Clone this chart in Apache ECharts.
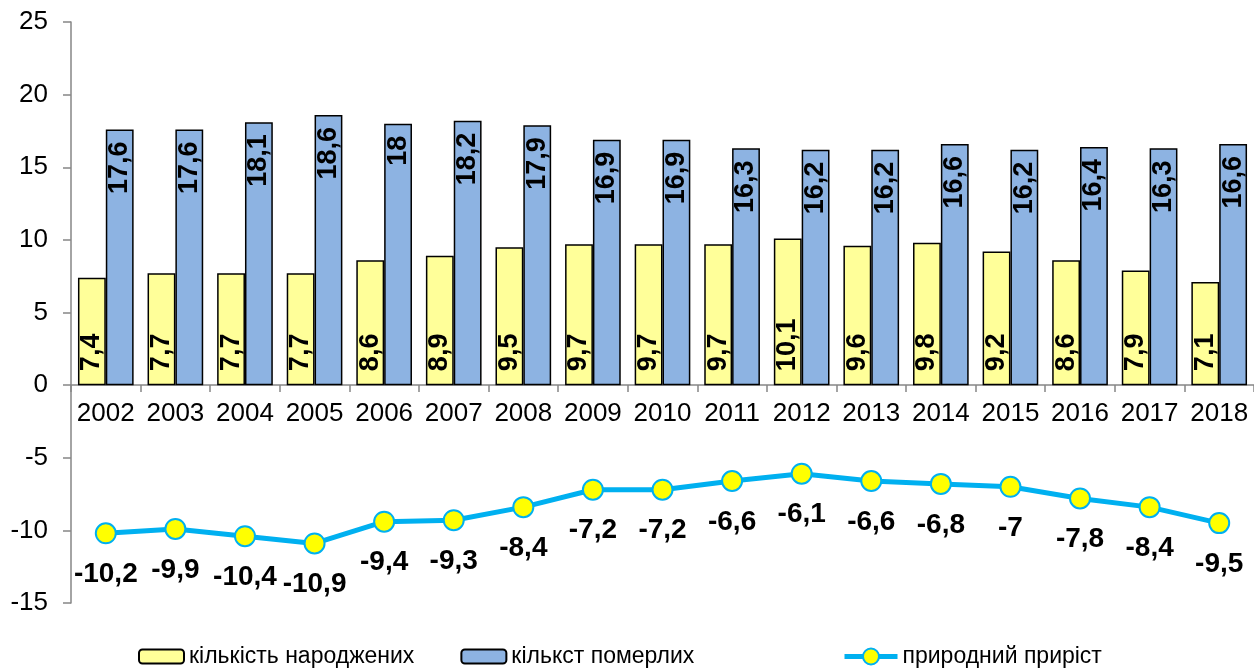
<!DOCTYPE html>
<html>
<head>
<meta charset="utf-8">
<script src="https://cdn.jsdelivr.net/npm/echarts@6/dist/echarts.min.js"></script>
<style>
  html, body { margin: 0; padding: 0; background: #fff; }
  #chart { width: 1254px; height: 669px; }
</style>
</head>
<body>
<div id="chart"></div>
<script>
// роки
var years = ['2002', '2003', '2004', '2005', '2006', '2007', '2008', '2009', '2010',
             '2011', '2012', '2013', '2014', '2015', '2016', '2017', '2018'];
var births = [7.4, 7.7, 7.7, 7.7, 8.6, 8.9, 9.5, 9.7, 9.7, 9.7, 10.1, 9.6, 9.8, 9.2, 8.6, 7.9, 7.1];
var deaths = [17.6, 17.6, 18.1, 18.6, 18, 18.2, 17.9, 16.9, 16.9, 16.3, 16.2, 16.2, 16.6, 16.2, 16.4, 16.3, 16.6];
var growth = [-10.2, -9.9, -10.4, -10.9, -9.4, -9.3, -8.4, -7.2, -7.2, -6.6, -6.1, -6.6, -6.8, -7, -7.8, -8.4, -9.5];
var seriesNames = ['кількість народжених', 'кількст померлих', 'природний приріст'];

var FONT = "'Liberation Sans', Arial, sans-serif";

function comma(p) {
    return String(p.value).replace('.', ',');
}

var chart = echarts.init(document.getElementById('chart'));
chart.setOption({
    animation: false,
    textStyle: { fontFamily: FONT, color: '#000' },
    grid: { left: 71, right: 0, top: 22, bottom: 66 },
    legend: [{
        left: 138,
        top: 645,
        padding: 0,
        itemWidth: 45,
        itemHeight: 14,
        itemGap: 46,
        textStyle: { fontFamily: FONT, fontSize: 23, color: '#000' },
        data: [seriesNames[0], seriesNames[1]]
    }, {
        left: 842,
        top: 645,
        padding: 0,
        itemWidth: 53,
        itemHeight: 20,
        lineStyle: { width: 5 },
        textStyle: { fontFamily: FONT, fontSize: 23, color: '#000' },
        data: [seriesNames[2]]
    }],
    xAxis: {
        type: 'category',
        data: years,
        offset: -218,
        axisLine: { onZero: false, lineStyle: { color: '#868686', width: 1.5 } },
        axisTick: { show: true, length: 7, lineStyle: { color: '#868686', width: 1.5 } },
        axisLabel: { interval: 0, fontSize: 26, color: '#000', margin: 16, fontFamily: FONT }
    },
    yAxis: {
        type: 'value',
        min: -15,
        max: 25,
        interval: 5,
        splitLine: { show: false },
        axisLine: { show: true, lineStyle: { color: '#868686', width: 1.5 } },
        axisTick: { show: true, length: 8, lineStyle: { color: '#868686', width: 1.5 } },
        axisLabel: { fontSize: 26, color: '#000', margin: 23, fontFamily: FONT }
    },
    series: [
        {
            name: seriesNames[0],
            type: 'bar',
            data: births,
            barGap: '0%',
            barCategoryGap: '20%',
            itemStyle: { color: '#FFFF99', borderColor: '#000', borderWidth: 1.5 },
            label: {
                show: true,
                position: 'insideBottom',
                rotate: 90,
                align: 'left',
                verticalAlign: 'middle',
                distance: 14,
                fontSize: 27,
                fontWeight: 'bold',
                color: '#000',
                fontFamily: FONT,
                formatter: comma
            }
        },
        {
            name: seriesNames[1],
            type: 'bar',
            data: deaths,
            barGap: '0%',
            barCategoryGap: '20%',
            itemStyle: { color: '#8DB3E2', borderColor: '#000', borderWidth: 1.5 },
            label: {
                show: true,
                position: 'insideTop',
                rotate: 90,
                align: 'right',
                verticalAlign: 'middle',
                distance: 12,
                fontSize: 27,
                fontWeight: 'bold',
                color: '#000',
                fontFamily: FONT,
                formatter: comma
            }
        },
        {
            name: seriesNames[2],
            type: 'line',
            data: growth,
            symbol: 'circle',
            symbolSize: 20,
            lineStyle: { color: '#00B0F0', width: 5 },
            itemStyle: { color: '#FFFF00', borderColor: '#00B0F0', borderWidth: 2 },
            label: {
                show: true,
                position: 'bottom',
                distance: 16,
                fontSize: 28,
                fontWeight: 'bold',
                color: '#000',
                fontFamily: FONT,
                formatter: comma
            },
            z: 5
        }
    ]
});
</script>
</body>
</html>
